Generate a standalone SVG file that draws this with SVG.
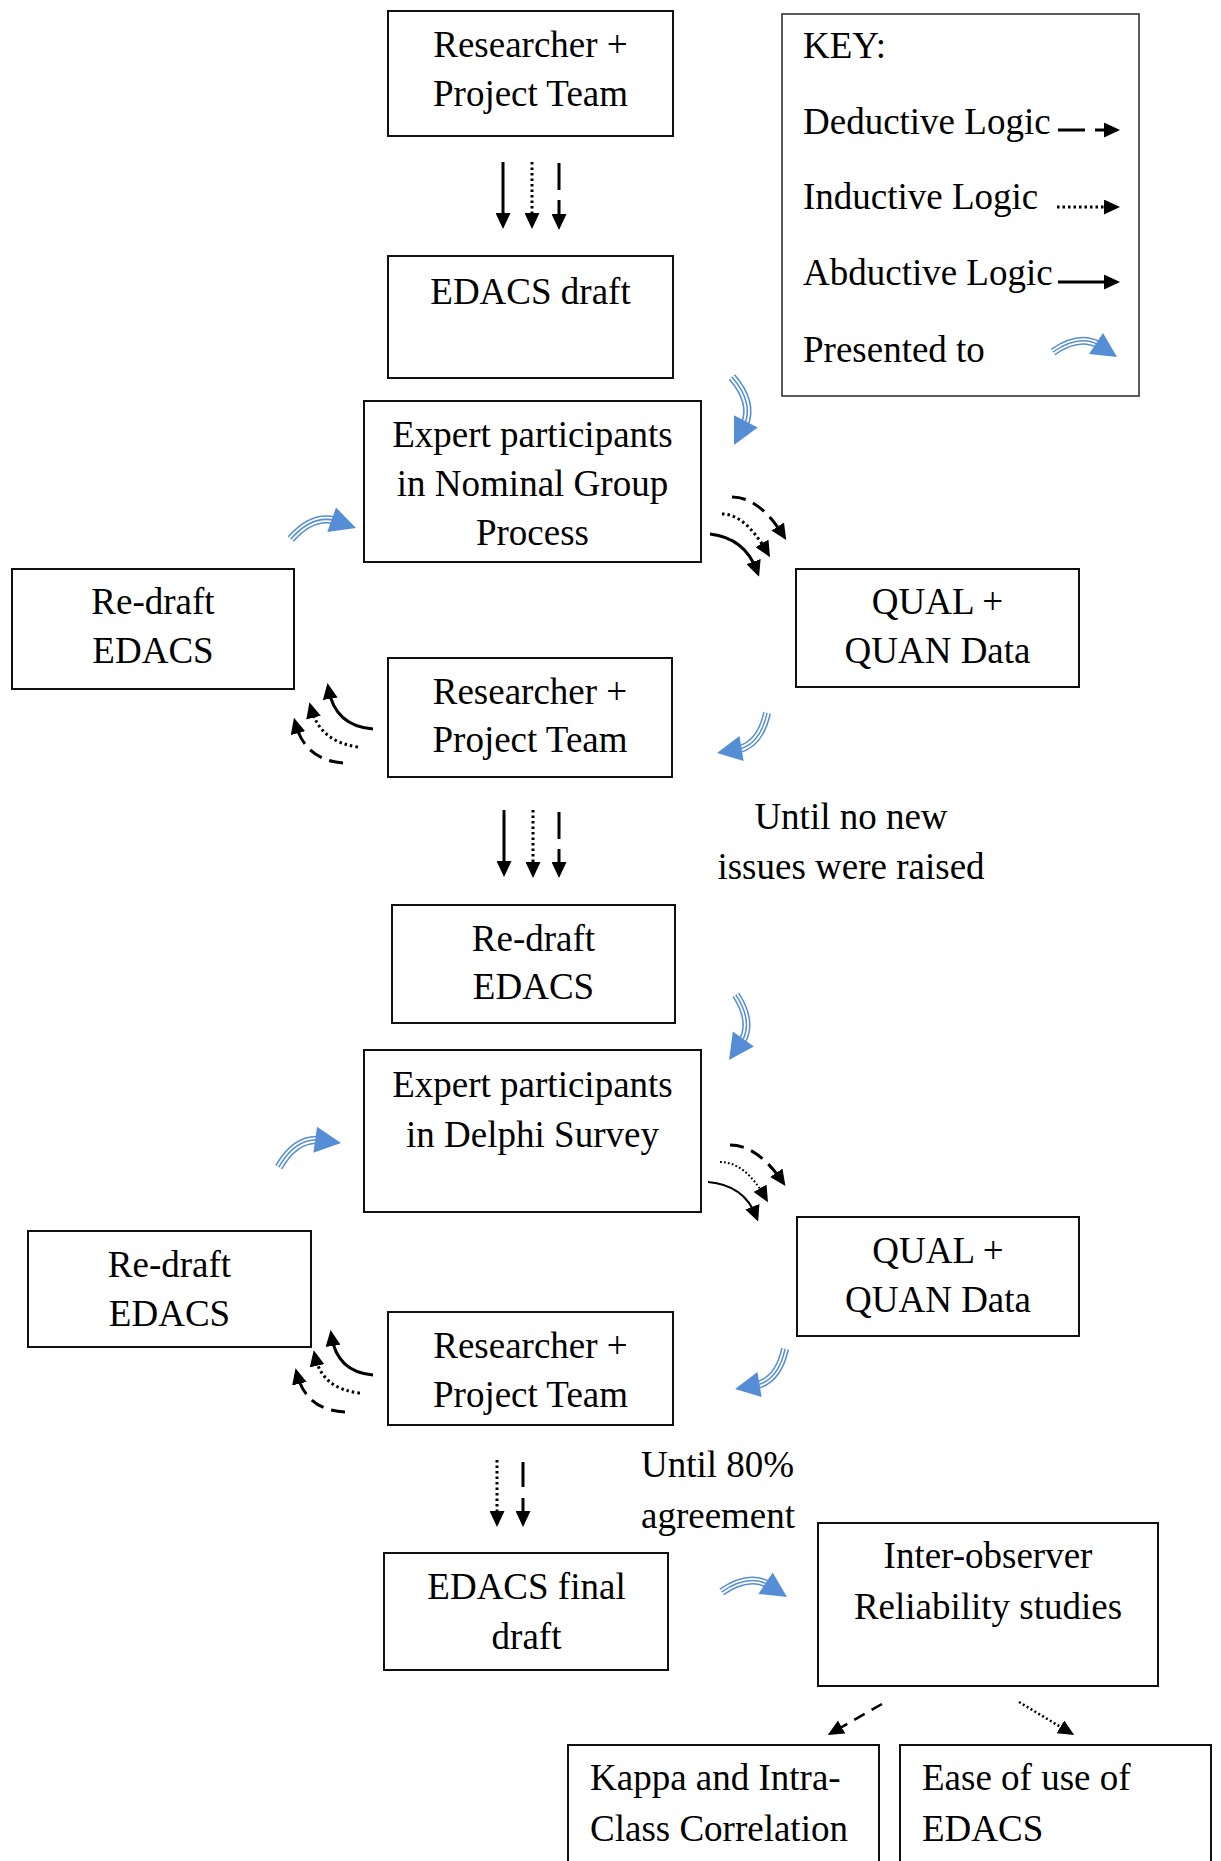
<svg xmlns="http://www.w3.org/2000/svg" width="1221" height="1861" viewBox="0 0 1221 1861">
<style>
  .box { fill: #fff; stroke: #111; stroke-width: 2; }
  .key { fill: #fff; stroke: #333; stroke-width: 1.6; }
  text { font-family: "Liberation Serif", "Times New Roman", serif; font-size: 37px; fill: #000; }
  .c { text-anchor: middle; }
  .ln { fill: none; stroke: #000; stroke-width: 3; }
  .solid { marker-end: url(#ah); }
  .dot { stroke-dasharray: 2.5 3; marker-end: url(#ah); }
  .dash { stroke-dasharray: 27 10; marker-end: url(#ah); }
  .cdash { stroke-dasharray: 14 8; marker-end: url(#ah); }
</style>
<defs>
  <marker id="ah" markerUnits="userSpaceOnUse" markerWidth="16" markerHeight="15" refX="10" refY="7.5" orient="auto">
    <path d="M0,0 L16,7.5 L0,15 Z" fill="#000"/>
  </marker>
  <g id="pres">
    <path d="M-64,-5 Q-38,-23 -18,-12" fill="none" stroke="#558ED5" stroke-width="8"/>
    <path d="M-64,-5 Q-38,-23 -18,-12" fill="none" stroke="#fff" stroke-width="5"/>
    <path d="M-64,-5 Q-38,-23 -18,-12" fill="none" stroke="#558ED5" stroke-width="1.5"/>
    <path d="M0,0 L-14,-24 L-28,-3 Z" fill="#558ED5"/>
  </g>
</defs>
<rect width="1221" height="1861" fill="#fff"/>

<g id="key">
  <rect class="key" x="782" y="14" width="357" height="382"/>
  <text x="803" y="58">KEY:</text>
  <text x="803" y="134">Deductive Logic</text>
  <text x="803" y="209">Inductive Logic</text>
  <text x="803" y="285">Abductive Logic</text>
  <text x="803" y="362">Presented to</text>
  <path class="ln dash" d="M1058,130 L1114,130"/>
  <path class="ln dot" d="M1057,207 L1114,207"/>
  <path class="ln solid" d="M1058,282 L1114,282"/>
  <use href="#pres" transform="translate(1117,357)"/>
</g>

<g id="researcher1">
  <rect class="box" x="388" y="11" width="285" height="125"/>
  <text class="c" x="530.5" y="57">Researcher +</text>
  <text class="c" x="530.5" y="106">Project Team</text>
</g>
<g id="edacs-draft">
  <rect class="box" x="388" y="256" width="285" height="122"/>
  <text class="c" x="530.5" y="304">EDACS draft</text>
</g>
<g id="expert-ngp">
  <rect class="box" x="364" y="401" width="337" height="161"/>
  <text class="c" x="532.5" y="447">Expert participants</text>
  <text class="c" x="532.5" y="496">in Nominal Group</text>
  <text class="c" x="532.5" y="545">Process</text>
</g>
<g id="qual1">
  <rect class="box" x="796" y="569" width="283" height="118"/>
  <text class="c" x="937.5" y="614">QUAL +</text>
  <text class="c" x="937.5" y="663">QUAN Data</text>
</g>
<g id="redraft1">
  <rect class="box" x="12" y="569" width="282" height="120"/>
  <text class="c" x="153" y="614">Re-draft</text>
  <text class="c" x="153" y="663">EDACS</text>
</g>
<g id="researcher2">
  <rect class="box" x="388" y="658" width="284" height="119"/>
  <text class="c" x="530" y="704">Researcher +</text>
  <text class="c" x="530" y="752">Project Team</text>
</g>
<g id="note1">
  <text class="c" x="851" y="829">Until no new</text>
  <text class="c" x="851" y="879">issues were raised</text>
</g>
<g id="redraft-mid">
  <rect class="box" x="392" y="905" width="283" height="118"/>
  <text class="c" x="533.5" y="951">Re-draft</text>
  <text class="c" x="533.5" y="999">EDACS</text>
</g>
<g id="expert-delphi">
  <rect class="box" x="364" y="1050" width="337" height="162"/>
  <text class="c" x="532.5" y="1097">Expert participants</text>
  <text class="c" x="532.5" y="1147">in Delphi Survey</text>
</g>
<g id="qual2">
  <rect class="box" x="797" y="1217" width="282" height="119"/>
  <text class="c" x="938" y="1263">QUAL +</text>
  <text class="c" x="938" y="1312">QUAN Data</text>
</g>
<g id="redraft2">
  <rect class="box" x="28" y="1231" width="283" height="116"/>
  <text class="c" x="169.5" y="1277">Re-draft</text>
  <text class="c" x="169.5" y="1326">EDACS</text>
</g>
<g id="researcher3">
  <rect class="box" x="388" y="1312" width="285" height="113"/>
  <text class="c" x="530.5" y="1358">Researcher +</text>
  <text class="c" x="530.5" y="1407">Project Team</text>
</g>
<g id="note2">
  <text x="641" y="1477">Until 80%</text>
  <text x="641" y="1528">agreement</text>
</g>
<g id="edacs-final">
  <rect class="box" x="384" y="1553" width="284" height="117"/>
  <text class="c" x="526.5" y="1599">EDACS final</text>
  <text class="c" x="526.5" y="1649">draft</text>
</g>
<g id="inter-observer">
  <rect class="box" x="818" y="1523" width="340" height="163"/>
  <text class="c" x="988" y="1568">Inter-observer</text>
  <text class="c" x="988" y="1619">Reliability studies</text>
</g>
<g id="kappa">
  <rect class="box" x="568" y="1745" width="311" height="140"/>
  <text x="590" y="1790">Kappa and Intra-</text>
  <text x="590" y="1841">Class Correlation</text>
</g>
<g id="ease">
  <rect class="box" x="900" y="1745" width="311" height="140"/>
  <text x="922" y="1790">Ease of use of</text>
  <text x="922" y="1841">EDACS</text>
</g>

<g id="connectors">
  <!-- down arrows group 1 -->
  <path class="ln solid" d="M503,162 L503,223"/>
  <path class="ln dot" d="M532,162 L532,223"/>
  <path class="ln dash" d="M559,163 L559,224"/>
  <!-- down arrows group 2 -->
  <path class="ln solid" d="M504,810 L504,871"/>
  <path class="ln dot" d="M533,810 L533,872"/>
  <path class="ln dash" d="M559,812 L559,872"/>
  <!-- down arrows group 3 -->
  <path class="ln dot" d="M497,1460 L497,1521"/>
  <path class="ln dash" style="stroke-dasharray:25 11" d="M523,1462 L523,1521"/>

  <!-- NGP to QUAL -->
  <path class="ln cdash" d="M732,497 Q759,497 783,535"/>
  <path class="ln dot" d="M722,514 Q745,514 767,552"/>
  <path class="ln solid" d="M710,534 Q745,538 757,571"/>
  <!-- Researcher2 to Redraft1 -->
  <path class="ln solid" d="M373,729 Q335,726 328.5,689"/>
  <path class="ln dot" d="M358,747 Q320,742 311,708"/>
  <path class="ln cdash" d="M343,763 Q305,760 295.5,723.5"/>
  <!-- Delphi to QUAL2 -->
  <path class="ln cdash" d="M730,1145 Q757,1145 782,1181"/>
  <path class="ln dot" style="stroke-width:2;stroke-dasharray:1.8 2.2" d="M720,1162 Q745,1162 765,1197"/>
  <path class="ln solid" style="stroke-width:2.2" d="M708,1182 Q744,1185 756,1216"/>
  <!-- Researcher3 to Redraft2 -->
  <path class="ln solid" d="M373,1375 Q337,1372 331.5,1336"/>
  <path class="ln dot" d="M360,1393 Q322,1389 315,1356"/>
  <path class="ln cdash" d="M345,1412 Q306,1410 297,1374"/>
  <!-- Inter-observer to bottom -->
  <path class="ln" style="stroke-width:2.5;stroke-dasharray:12 8;marker-end:url(#ah)" d="M882,1704 L833,1732"/>
  <path class="ln" style="stroke-width:2.5;stroke-dasharray:2 2.5;marker-end:url(#ah)" d="M1019,1702 L1069,1732"/>

  <!-- presented-to arrows -->
  <use href="#pres" transform="translate(734,445) rotate(83.8) scale(1.06)"/>
  <use href="#pres" transform="translate(356,528) rotate(-14.1) scale(1.03)"/>
  <use href="#pres" transform="translate(717,753) rotate(136.8)"/>
  <use href="#pres" transform="translate(729,1060) rotate(91.6) scale(1.02)"/>
  <use href="#pres" transform="translate(341,1143) rotate(-25.7) scale(1.04)"/>
  <use href="#pres" transform="translate(735,1389) rotate(136.8)"/>
  <use href="#pres" transform="translate(787,1597) scale(1.02)"/>
</g>
</svg>
